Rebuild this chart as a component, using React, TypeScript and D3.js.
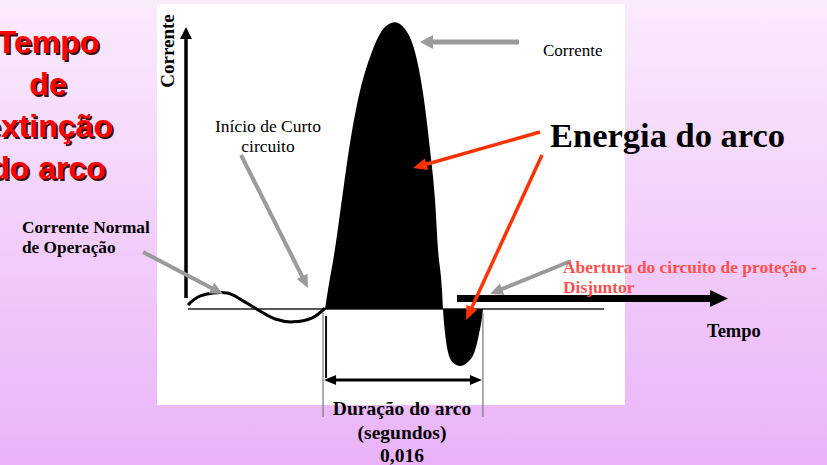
import React from "react";
import * as d3 from "d3";

// ---- data (time in ms, current in arbitrary units) ----
const normalTime = [0, 1.2, 4.0, 5.5, 7.0, 8.9, 10.7, 12.7, 14.0];
const normalCurrent = [0.14, 0.45, 0.56, 0.31, 0.0, -0.35, -0.45, -0.31, 0.03];

const arcTime = [14.0, 14.3, 15.0, 15.73, 16.45, 17.36, 18.79, 20.12, 21.14, 22.17, 23.19, 24.1, 24.72, 25.23, 25.54, 25.95, 26.05,
  26.25, 26.56, 27.07, 27.78, 28.6, 29.32, 29.72, 30.03, 30.13];
const arcCurrent = [0, 0.66, 2.06, 3.85, 5.59, 7.31, 8.99, 9.86, 10.03, 9.79, 8.99, 7.34, 5.59, 3.85, 2.1, 0.66, 0,
  -0.8, -1.5, -1.87, -1.99, -1.85, -1.45, -0.9, -0.3, 0];

const arcStart = 14.0;
const arcEnd = 30.13;

const titleLines = ["Tempo", "de", "extinção", "do arco"];
const durationLines = ["Duração do arco", "(segundos)", "0,016"];

const W = 827, H = 465;
const x = d3.scaleLinear().domain([0, 42.5]).range([188, 604]);
const y = d3.scaleLinear().domain([0, 10]).range([309, 23]);

const SERIF = "'Liberation Serif', 'Times New Roman', serif";
const SANS = "'Liberation Sans', Arial, sans-serif";
const GREY = "#9a9a9a";
const RED = "#ff3300";

function Arrow({ x1, y1, x2, y2, color, width, head, hw }: any) {
  const a = Math.atan2(y2 - y1, x2 - x1);
  const bx = x2 - head * Math.cos(a), by = y2 - head * Math.sin(a);
  const px = -Math.sin(a) * hw, py = Math.cos(a) * hw;
  return (
    <g>
      <line x1={x1} y1={y1} x2={bx + 1 * Math.cos(a)} y2={by + 1 * Math.sin(a)} stroke={color} strokeWidth={width} />
      <polygon points={`${x2},${y2} ${bx + px},${by + py} ${bx - px},${by - py}`} fill={color} />
    </g>
  );
}

export default function App() {
  const normalLine = d3.line<number>()
    .x((_, i) => x(normalTime[i]))
    .y((d) => y(d))
    .curve(d3.curveCatmullRom)(normalCurrent) as string;
  const arcArea = d3.area<number>()
    .x((_, i) => x(arcTime[i]))
    .y0(y(0))
    .y1((d) => y(d))
    .curve(d3.curveMonotoneX)(arcCurrent) as string;

  const xs = x(arcStart) - 2, xe = x(arcEnd);

  return (
    <svg width={W} height={H} style={{ position: "absolute", left: 0, top: 0, display: "block" }}>
      <defs>
        <linearGradient id="bg" x1="0" y1="0" x2="0" y2="1">
          <stop offset="0" stopColor="#faebfc" />
          <stop offset="1" stopColor="#eab3f8" />
        </linearGradient>
      </defs>
      <rect x={0} y={0} width={W} height={H} fill="url(#bg)" />
      <rect x={157} y={4} width={468} height={401} fill="#ffffff" />

      {/* left title */}
      {titleLines.map((t, i) => (
        <g key={t} fontFamily={SANS} fontWeight="bold" fontSize={32} textAnchor="middle">
          <text x={50} y={55 + i * 42} fill="#3a1010">{t}</text>
          <text x={48} y={53 + i * 42} fill="#ff0000">{t}</text>
        </g>
      ))}

      {/* baseline */}
      <line x1={x(0)} y1={y(0)} x2={x(42.5)} y2={y(0)} stroke="#222" strokeWidth={1.3} />

      {/* arc current */}
      <path d={arcArea} fill="#000" />
      {/* normal current */}
      <path d={normalLine} fill="none" stroke="#000" strokeWidth={3} />

      {/* y axis */}
      <Arrow x1={186} y1={298} x2={186} y2={27} color="#000" width={3.5} head={12} hw={6} />
      <text transform="translate(174,51) rotate(-90)" fontFamily={SERIF} fontWeight="bold" fontSize={19} textAnchor="middle">Corrente</text>

      {/* time axis */}
      <Arrow x1={457} y1={298.5} x2={728} y2={298.5} color="#000" width={7} head={18} hw={8.5} />
      <text x={707} y={337} fontFamily={SERIF} fontWeight="bold" fontSize={18.5}>Tempo</text>

      {/* duration bracket */}
      <line x1={xs} y1={313} x2={xs} y2={417} stroke="#777" strokeWidth={1.2} />
      <line x1={xs + 3} y1={316} x2={xs + 3} y2={378} stroke="#111" strokeWidth={2} />
      <line x1={xe} y1={313} x2={xe} y2={417} stroke="#777" strokeWidth={1.2} />
      <Arrow x1={(xs + xe) / 2} y1={380} x2={xs + 1} y2={380} color="#000" width={3} head={12} hw={5} />
      <Arrow x1={(xs + xe) / 2} y1={380} x2={xe - 1} y2={380} color="#000" width={3} head={12} hw={5} />
      {durationLines.map((t, i) => (
        <text key={t} x={402} y={415 + i * 23.5} fontFamily={SERIF} fontWeight="bold" fontSize={19.5} textAnchor="middle">{t}</text>
      ))}

      {/* annotations */}
      <Arrow x1={519} y1={42} x2={420} y2={42} color={GREY} width={5} head={13} hw={7} />
      <text x={543} y={56} fontFamily={SERIF} fontSize={17}>Corrente</text>

      <text x={268} y={132} fontFamily={SERIF} fontSize={17.5} textAnchor="middle">Início de Curto</text>
      <text x={268} y={152} fontFamily={SERIF} fontSize={17.5} textAnchor="middle">circuito</text>
      <Arrow x1={241} y1={155} x2={308} y2={288} color={GREY} width={4} head={13} hw={6} />

      <text x={22} y={233} fontFamily={SERIF} fontWeight="bold" fontSize={17.3}>Corrente Normal</text>
      <text x={22} y={253} fontFamily={SERIF} fontWeight="bold" fontSize={17.3}>de Operação</text>
      <Arrow x1={143} y1={252} x2={223} y2={294} color={GREY} width={4} head={13} hw={6} />

      <text x={550} y={147} fontFamily={SERIF} fontWeight="bold" fontSize={34.5}>Energia do arco</text>
      <Arrow x1={540} y1={132} x2={413} y2={168} color={RED} width={3.5} head={14} hw={6} />
      <Arrow x1={542} y1={155} x2={466} y2={320} color={RED} width={3.5} head={14} hw={6} />

      <Arrow x1={571} y1={261} x2={490} y2={294} color={GREY} width={4} head={13} hw={6} />
      <text x={563} y={273} fontFamily={SERIF} fontWeight="bold" fontSize={17.4} fill="#ff5050">Abertura do circuito de proteção -</text>
      <text x={563} y={293} fontFamily={SERIF} fontWeight="bold" fontSize={17.4} fill="#ff5050">Disjuntor</text>
    </svg>
  );
}
